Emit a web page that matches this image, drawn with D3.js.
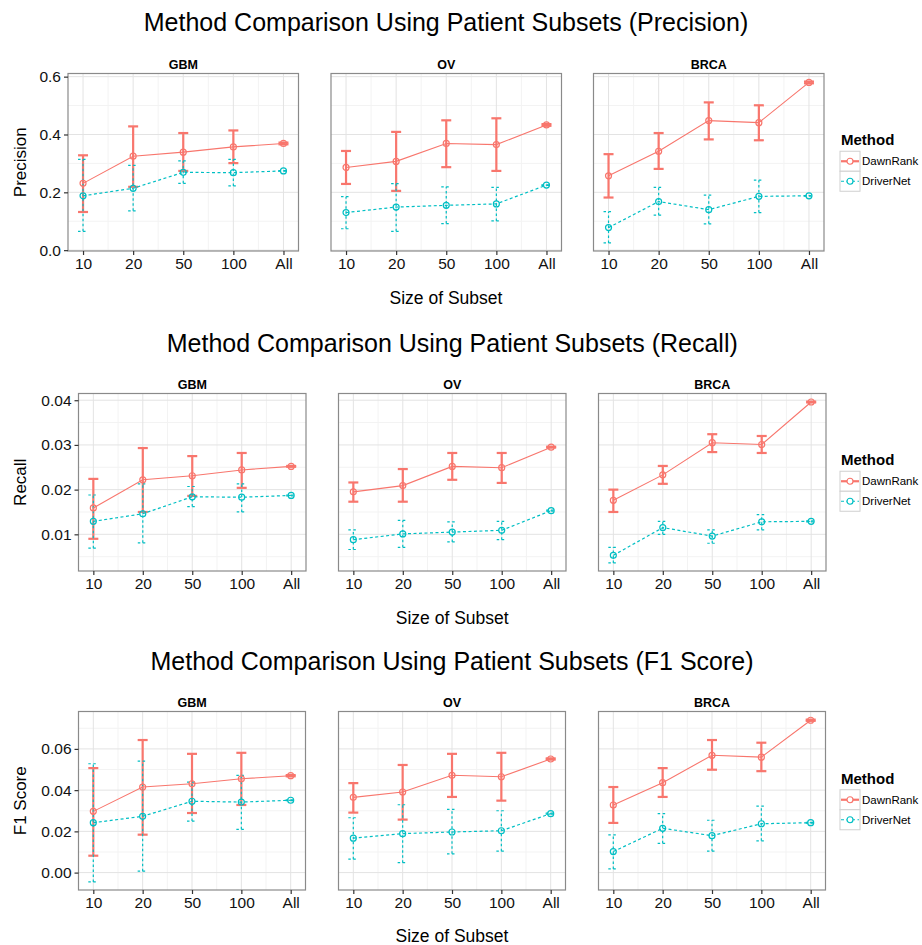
<!DOCTYPE html>
<html>
<head>
<meta charset="utf-8">
<script src="https://cdn.jsdelivr.net/npm/d3@7"></script>
<style>
  body { margin: 0; background: #fff; }
  text { font-family: "Liberation Sans", Arial, Helvetica, sans-serif; }
</style>
</head>
<body>
<svg width="922" height="945"></svg>
<script>
const svg = d3.select('svg');

// categories
const sizes = ['10', '20', '50', '100', 'All'];
const cancers = ['GBM', 'OV', 'BRCA'];
const methods = ['DawnRank', 'DriverNet'];

// tick labels
const precisionTicks = [0, 0.2, 0.4, 0.6];
const recallTicks = [0.01, 0.02, 0.03, 0.04];
const f1Ticks = [0, 0.02, 0.04, 0.06];

// series values, one row per cancer (GBM, OV, BRCA), one column per subset size
const precisionDawnRankMean = [
  [0.231, 0.325, 0.339, 0.357, 0.369],
  [0.286, 0.307, 0.369, 0.365, 0.433],
  [0.257, 0.342, 0.448, 0.441, 0.580]
];
const precisionDawnRankLow = [
  [0.132, 0.219, 0.274, 0.301, 0.366],
  [0.229, 0.205, 0.287, 0.274, 0.430],
  [0.182, 0.281, 0.383, 0.380, 0.577]
];
const precisionDawnRankHigh = [
  [0.328, 0.428, 0.405, 0.414, 0.372],
  [0.343, 0.409, 0.449, 0.456, 0.436],
  [0.332, 0.405, 0.511, 0.501, 0.583]
];
const precisionDriverNetMean = [
  [0.188, 0.214, 0.269, 0.268, 0.274],
  [0.130, 0.149, 0.155, 0.160, 0.225],
  [0.078, 0.168, 0.140, 0.186, 0.188]
];
const precisionDriverNetLow = [
  [0.065, 0.136, 0.231, 0.222, 0.273],
  [0.074, 0.065, 0.092, 0.101, 0.224],
  [0.025, 0.121, 0.091, 0.130, 0.187]
];
const precisionDriverNetHigh = [
  [0.314, 0.293, 0.309, 0.314, 0.275],
  [0.185, 0.230, 0.219, 0.217, 0.226],
  [0.133, 0.217, 0.190, 0.242, 0.189]
];

const recallDawnRankMean = [
  [0.0159, 0.0222, 0.0231, 0.0244, 0.0252],
  [0.0195, 0.0209, 0.0252, 0.0249, 0.0295],
  [0.0176, 0.0233, 0.0305, 0.0301, 0.0396]
];
const recallDawnRankLow = [
  [0.0090, 0.0150, 0.0186, 0.0204, 0.0251],
  [0.0173, 0.0173, 0.0222, 0.0215, 0.0294],
  [0.0150, 0.0213, 0.0284, 0.0282, 0.0395]
];
const recallDawnRankHigh = [
  [0.0224, 0.0293, 0.0275, 0.0282, 0.0253],
  [0.0216, 0.0246, 0.0282, 0.0282, 0.0296],
  [0.0200, 0.0253, 0.0324, 0.0320, 0.0397]
];
const recallDriverNetMean = [
  [0.0129, 0.0146, 0.0184, 0.0183, 0.0187],
  [0.0088, 0.0101, 0.0105, 0.0109, 0.0153],
  [0.0053, 0.0115, 0.0096, 0.0128, 0.0129]
];
const recallDriverNetLow = [
  [0.0069, 0.0081, 0.0162, 0.0150, 0.0186],
  [0.0066, 0.0071, 0.0083, 0.0088, 0.0152],
  [0.0036, 0.0100, 0.0080, 0.0110, 0.0128]
];
const recallDriverNetHigh = [
  [0.0188, 0.0213, 0.0207, 0.0213, 0.0188],
  [0.0110, 0.0131, 0.0128, 0.0129, 0.0154],
  [0.0071, 0.0129, 0.0110, 0.0144, 0.0130]
];

const f1DawnRankMean = [
  [0.0297, 0.0415, 0.0431, 0.0455, 0.0470],
  [0.0365, 0.0391, 0.0472, 0.0465, 0.0551],
  [0.0328, 0.0436, 0.0569, 0.0560, 0.0739]
];
const f1DawnRankLow = [
  [0.0082, 0.0184, 0.0289, 0.0328, 0.0467],
  [0.0291, 0.0257, 0.0367, 0.0349, 0.0548],
  [0.0241, 0.0367, 0.0499, 0.0492, 0.0736]
];
const f1DawnRankHigh = [
  [0.0507, 0.0643, 0.0576, 0.0581, 0.0473],
  [0.0434, 0.0522, 0.0576, 0.0581, 0.0554],
  [0.0415, 0.0507, 0.0643, 0.0630, 0.0742]
];
const f1DriverNetMean = [
  [0.0242, 0.0273, 0.0346, 0.0342, 0.0351],
  [0.0167, 0.0189, 0.0197, 0.0203, 0.0286],
  [0.0102, 0.0215, 0.0179, 0.0237, 0.0242]
];
const f1DriverNetLow = [
  [-0.0045, 0.0007, 0.0250, 0.0210, 0.0349],
  [0.0065, 0.0048, 0.0091, 0.0104, 0.0284],
  [0.0018, 0.0142, 0.0104, 0.0154, 0.0240]
];
const f1DriverNetHigh = [
  [0.0528, 0.0541, 0.0439, 0.0472, 0.0353],
  [0.0266, 0.0329, 0.0307, 0.0300, 0.0288],
  [0.0183, 0.0286, 0.0254, 0.0322, 0.0244]
];

const colors = { DawnRank: '#F8766D', DriverNet: '#00BFC4' };
const dashes = { DawnRank: null, DriverNet: '3,2.5' };

const rows = [
  {
    label: 'Precision', title: 'Method Comparison Using Patient Subsets (Precision)',
    ticks: precisionTicks, format: d3.format('.1f'),
    series: {
      DawnRank: [precisionDawnRankMean, precisionDawnRankLow, precisionDawnRankHigh],
      DriverNet: [precisionDriverNetMean, precisionDriverNetLow, precisionDriverNetHigh]
    },
    top: 73.5, bottom: 251, lefts: [68, 331, 593.5], width: 230.5,
    titleY: 22, stripY: 65, axisTitleY: 298
  },
  {
    label: 'Recall', title: 'Method Comparison Using Patient Subsets (Recall)',
    ticks: recallTicks, format: d3.format('.2f'),
    series: {
      DawnRank: [recallDawnRankMean, recallDawnRankLow, recallDawnRankHigh],
      DriverNet: [recallDriverNetMean, recallDriverNetLow, recallDriverNetHigh]
    },
    top: 393.5, bottom: 571, lefts: [78.5, 338.5, 598.5], width: 227.5,
    titleY: 343, stripY: 385, axisTitleY: 618
  },
  {
    label: 'F1 Score', title: 'Method Comparison Using Patient Subsets (F1 Score)',
    ticks: f1Ticks, format: d3.format('.2f'),
    series: {
      DawnRank: [f1DawnRankMean, f1DawnRankLow, f1DawnRankHigh],
      DriverNet: [f1DriverNetMean, f1DriverNetLow, f1DriverNetHigh]
    },
    top: 711.5, bottom: 890, lefts: [78.5, 338.5, 598.5], width: 227,
    titleY: 661, stripY: 703, axisTitleY: 936
  }
];

svg.append('rect').attr('width', 922).attr('height', 945).attr('fill', '#fff');

const renderRow = row => {
  // y domain like ggplot: data range of the error bars + 5% each side
  const all = [];
  methods.forEach(m => { all.push(...row.series[m][1].flat(), ...row.series[m][2].flat()); });
  const [lo, hi] = d3.extent(all);
  const pad = (hi - lo) * 0.05;
  const yScale = d3.scaleLinear().domain([lo - pad, hi + pad]).range([row.bottom, row.top]);

  const step = row.ticks[1] - row.ticks[0];
  const minor = [row.ticks[0] - step / 2, ...row.ticks.map(t => t + step / 2)]
    .filter(t => t > yScale.domain()[0] && t < yScale.domain()[1]);

  const panelMid = (row.lefts[0] + row.lefts[2] + row.width) / 2;

  svg.append('text')
    .attr('x', panelMid).attr('y', row.titleY).attr('dy', '0.35em')
    .attr('text-anchor', 'middle').attr('font-size', 25)
    .text(row.title);

  cancers.forEach((cancer, ci) => {
    const xScale = d3.scalePoint().domain(sizes).range([0, row.width]).padding(0.3);
    const g = svg.append('g').attr('transform', `translate(${row.lefts[ci]},0)`);
    const half = xScale.step() / 2;

    // grid
    g.selectAll('.minor-y').data(minor).enter().append('line')
      .attr('x1', 0).attr('x2', row.width)
      .attr('y1', d => yScale(d)).attr('y2', d => yScale(d))
      .attr('stroke', '#f3f3f3').attr('stroke-width', 1);
    g.selectAll('.minor-x').data(sizes.slice(1)).enter().append('line')
      .attr('x1', d => xScale(d) - half).attr('x2', d => xScale(d) - half)
      .attr('y1', row.top).attr('y2', row.bottom)
      .attr('stroke', '#f3f3f3').attr('stroke-width', 1);
    g.selectAll('.major-y').data(row.ticks).enter().append('line')
      .attr('x1', 0).attr('x2', row.width)
      .attr('y1', d => yScale(d)).attr('y2', d => yScale(d))
      .attr('stroke', '#e3e3e3').attr('stroke-width', 1);
    g.selectAll('.major-x').data(sizes).enter().append('line')
      .attr('x1', d => xScale(d)).attr('x2', d => xScale(d))
      .attr('y1', row.top).attr('y2', row.bottom)
      .attr('stroke', '#e3e3e3').attr('stroke-width', 1);

    const seriesData = methods.map(m => ({
      method: m,
      values: sizes.map((s, i) => ({
        size: s,
        mean: row.series[m][0][ci][i],
        low: row.series[m][1][ci][i],
        high: row.series[m][2][ci][i]
      }))
    }));

    // error bars
    seriesData.forEach(sd => {
      const eb = g.append('g')
        .attr('stroke', colors[sd.method])
        .attr('stroke-width', sd.method === 'DawnRank' ? 2.2 : 1.2)
        .attr('stroke-dasharray', sd.method === 'DawnRank' ? null : '2.5,2.5')
        .attr('fill', 'none');
      const bars = eb.selectAll('g').data(sd.values).enter().append('g');
      bars.append('line')
        .attr('x1', d => xScale(d.size)).attr('x2', d => xScale(d.size))
        .attr('y1', d => yScale(d.low)).attr('y2', d => yScale(d.high));
      bars.append('line')
        .attr('x1', d => xScale(d.size) - 5).attr('x2', d => xScale(d.size) + 5)
        .attr('y1', d => yScale(d.low)).attr('y2', d => yScale(d.low));
      bars.append('line')
        .attr('x1', d => xScale(d.size) - 5).attr('x2', d => xScale(d.size) + 5)
        .attr('y1', d => yScale(d.high)).attr('y2', d => yScale(d.high));
    });

    // lines
    const line = d3.line().x(d => xScale(d.size)).y(d => yScale(d.mean));
    seriesData.forEach(sd => {
      g.append('path').datum(sd.values)
        .attr('d', line)
        .attr('fill', 'none')
        .attr('stroke', colors[sd.method])
        .attr('stroke-width', sd.method === 'DawnRank' ? 1.1 : 1.2)
        .attr('stroke-dasharray', dashes[sd.method]);
    });

    // points
    seriesData.forEach(sd => {
      g.selectAll(null).data(sd.values).enter().append('circle')
        .attr('cx', d => xScale(d.size)).attr('cy', d => yScale(d.mean))
        .attr('r', 3)
        .attr('fill', 'none')
        .attr('stroke', colors[sd.method])
        .attr('stroke-width', 1.2);
    });

    // panel border
    g.append('rect')
      .attr('x', 0).attr('y', row.top)
      .attr('width', row.width).attr('height', row.bottom - row.top)
      .attr('fill', 'none').attr('stroke', '#8a8a8a').attr('stroke-width', 1.2);

    // strip label
    g.append('text')
      .attr('x', row.width / 2).attr('y', row.stripY).attr('dy', '0.35em')
      .attr('text-anchor', 'middle').attr('font-size', 12.5).attr('font-weight', 'bold')
      .text(cancer);

    // x axis
    const xAxis = g.append('g')
      .attr('transform', `translate(0,${row.bottom})`)
      .call(d3.axisBottom(xScale).tickSize(4).tickPadding(3));
    xAxis.select('.domain').remove();
    xAxis.selectAll('line').attr('stroke', '#333').attr('stroke-width', 1.2);
    xAxis.selectAll('text').attr('font-size', 15.5).attr('fill', '#111')
      .style('font-family', '"Liberation Sans", Arial, sans-serif');

    // y axis on the first panel only
    if (ci === 0) {
      const yAxis = g.append('g')
        .call(d3.axisLeft(yScale).tickValues(row.ticks).tickFormat(row.format).tickSize(4).tickPadding(3));
      yAxis.select('.domain').remove();
      yAxis.selectAll('line').attr('stroke', '#333').attr('stroke-width', 1.2);
      yAxis.selectAll('text').attr('font-size', 15.5).attr('fill', '#111')
        .style('font-family', '"Liberation Sans", Arial, sans-serif');
    }
  });

  // y axis title
  svg.append('text')
    .attr('transform', `translate(20,${(row.top + row.bottom) / 2}) rotate(-90)`)
    .attr('dy', '0.35em').attr('text-anchor', 'middle').attr('font-size', 17)
    .text(row.label);

  // x axis title
  svg.append('text')
    .attr('x', panelMid).attr('y', row.axisTitleY).attr('dy', '0.35em')
    .attr('text-anchor', 'middle').attr('font-size', 17.5)
    .text('Size of Subset');

  // legend
  const mid = (row.top + row.bottom) / 2;
  const lg = svg.append('g').attr('transform', `translate(840,${mid - 11})`);
  lg.append('text')
    .attr('x', 1).attr('y', -6)
    .attr('font-size', 15).attr('font-weight', 'bold')
    .text('Method');
  methods.forEach((m, i) => {
    const k = lg.append('g').attr('transform', `translate(0,${i * 20})`);
    k.append('rect').attr('width', 20).attr('height', 20)
      .attr('fill', '#fff').attr('stroke', '#d0d0d0').attr('stroke-width', 1);
    k.append('line').attr('x1', 1).attr('x2', 19).attr('y1', 10).attr('y2', 10)
      .attr('stroke', colors[m]).attr('stroke-width', m === 'DawnRank' ? 2.2 : 1.2)
      .attr('stroke-dasharray', dashes[m]);
    k.append('circle').attr('cx', 10).attr('cy', 10).attr('r', 3)
      .attr('fill', '#fff').attr('stroke', colors[m]).attr('stroke-width', 1.2);
    k.append('text').attr('x', 22).attr('y', 10).attr('dy', '0.35em')
      .attr('font-size', 11.5).text(m);
  });
};

rows.forEach(renderRow);
</script>
</body>
</html>
